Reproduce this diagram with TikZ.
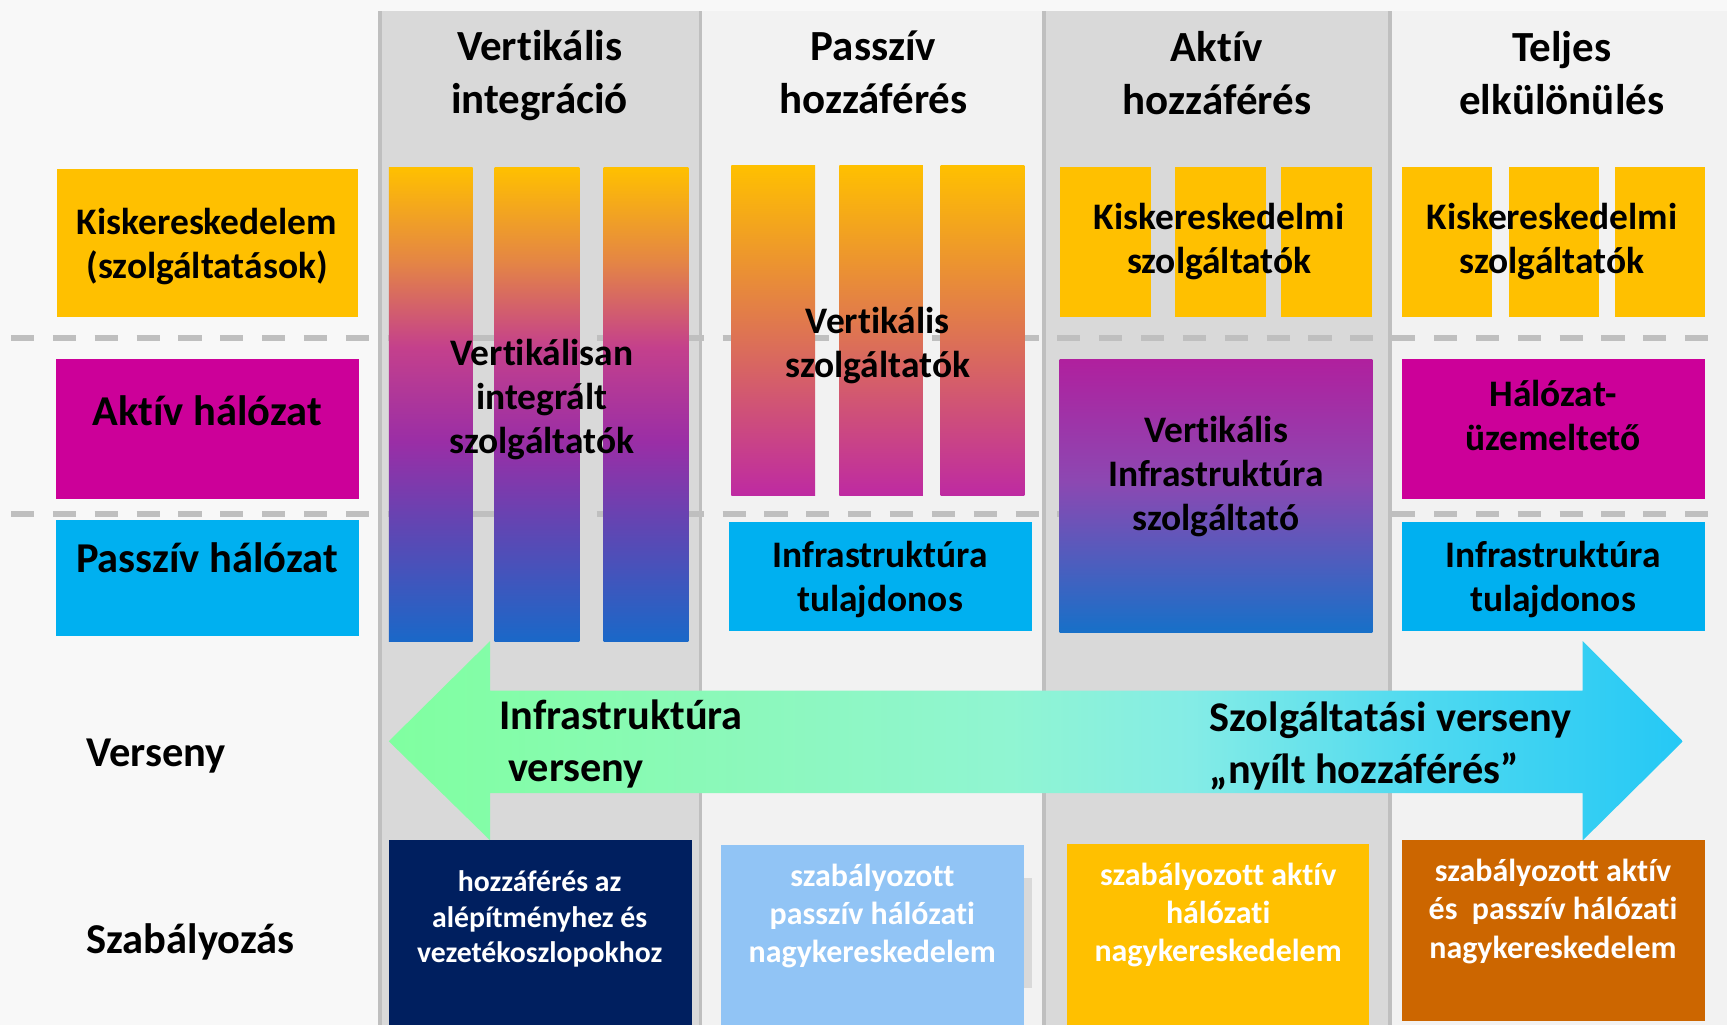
\documentclass[tikz,border=0pt]{standalone}
\usepackage{fontspec}
\setmainfont{Carlito}[Ligatures={NoCommon}]
\definecolor{bgc}{HTML}{F8F8F8}
\definecolor{colD}{HTML}{D9D9D9}
\definecolor{colL}{HTML}{F2F2F2}
\definecolor{sepc}{HTML}{BFBFBF}
\definecolor{cOr}{HTML}{FFC000}
\definecolor{cMag}{HTML}{CC0099}
\definecolor{cCy}{HTML}{00B0F0}
\definecolor{cNavy}{HTML}{001F5F}
\definecolor{cLb}{HTML}{91C4F5}
\definecolor{cDo}{HTML}{CC6600}
\definecolor{aA1}{HTML}{E48545}
\definecolor{aA2}{HTML}{C4408C}
\definecolor{aA3}{HTML}{9A2EA6}
\definecolor{aA4}{HTML}{6046B3}
\definecolor{aA5}{HTML}{1A68C8}
\definecolor{bB1}{HTML}{BE2AA2}
\definecolor{cC0}{HTML}{B0209E}
\definecolor{cC1}{HTML}{8C48B2}
\definecolor{cC2}{HTML}{1770C8}
\definecolor{ar0}{HTML}{80FFA0}
\definecolor{ar1}{HTML}{8CF8BC}
\definecolor{ar2}{HTML}{90F5D2}
\definecolor{ar3}{HTML}{84ECE6}
\definecolor{ar4}{HTML}{4ED9F0}
\definecolor{ar5}{HTML}{25C8F5}
\pgfdeclareverticalshading{barA}{100bp}{color(0bp)=(aA5); color(25bp)=(aA5); color(37bp)=(aA4); color(46bp)=(aA3); color(56bp)=(aA2); color(65bp)=(aA1); color(75bp)=(cOr); color(100bp)=(cOr)}
\pgfdeclareverticalshading{barB}{100bp}{color(0bp)=(bB1); color(25bp)=(bB1); color(75bp)=(cOr); color(100bp)=(cOr)}
\pgfdeclareverticalshading{barC}{100bp}{color(0bp)=(cC2); color(25bp)=(cC2); color(52.5bp)=(cC1); color(75bp)=(cC0); color(100bp)=(cC0)}
\pgfdeclarehorizontalshading{arrsh}{100bp}{color(0bp)=(ar0); color(25bp)=(ar0); color(39bp)=(ar1); color(49bp)=(ar2); color(56bp)=(ar3); color(65bp)=(ar4); color(75bp)=(ar5); color(100bp)=(ar5)}
\newcommand\rectnode[6]{%
  \pgfmathsetmacro\rw{(#5-#3)*0.5}%
  \pgfmathsetmacro\rh{(#6-#4)*0.5}%
  \node[boxx, #2, minimum width=\rw pt, minimum height=\rh pt] (#1) at ({(#3+#5)/2},{(#4+#6)/2}) {};}
\tikzset{
  boxx/.style={rectangle, inner sep=0pt, outer sep=0pt, draw=none},
  hdr/.style={font=\bfseries\fontsize{19.5pt}{24pt}\selectfont, align=center, inner sep=0pt},
  lbl/.style={font=\bfseries\fontsize{17pt}{20pt}\selectfont, align=center, inner sep=0pt},
  lblbig/.style={font=\bfseries\fontsize{19.3pt}{21pt}\selectfont, align=center, inner sep=0pt},
  rowlbl/.style={font=\bfseries\fontsize{19.3pt}{21pt}\selectfont, anchor=west, inner sep=0pt},
  arrtxt/.style={font=\bfseries\fontsize{19.2pt}{23.5pt}\selectfont, align=left, anchor=west, inner sep=0pt},
  sml/.style={font=\bfseries\fontsize{14.5pt}{17.3pt}\selectfont, align=center, inner sep=0pt, text=white},
  smlnav/.style={font=\bfseries\fontsize{13.5pt}{16.2pt}\selectfont, align=center, inner sep=0pt, text=white},
  sepline/.style={draw=sepc, line width=1.6pt},
  dashline/.style={draw=sepc, line width=2.6pt, dash pattern=on 10.5pt off 8.5pt},
}
\begin{document}
\begin{tikzpicture}[x=0.5pt, y=-0.5pt]
\useasboundingbox (0,0) rectangle (1568,931);
\fill[bgc] (0,0) rectangle (1568,931);
% columns
\rectnode{colA}{fill=colD}{345}{10}{636}{931}
\rectnode{colB}{fill=colL}{636}{10}{948}{931}
\rectnode{colC}{fill=colD}{948}{10}{1262}{931}
\rectnode{colE}{fill=colL}{1262}{10}{1568}{931}
\draw[sepline, line width=2.2pt] (colA.north west) -- (colA.south west);
\draw[sepline] (colB.north west) -- (colB.south west);
\draw[sepline] (colC.north west) -- (colC.south west);
\draw[sepline] (colE.north west) -- (colE.south west);
% dashed lines
\coordinate (d1a) at (10,307); \coordinate (d1b) at (1568,307);
\coordinate (d2a) at (10,467); \coordinate (d2b) at (1568,467);
\draw[dashline] (d1a) -- (d1b);
\draw[dashline] (d2a) -- (d2b);
% headers
\node[hdr] (h1) at (490,68.5) {Vertikális\\integráció};
\node[hdr] (h2) at (793,66) {Passzív\\hozzáférés};
\node[hdr] (h3) at (1105,66) {Aktív\\hozzáférés};
\node[hdr] (h4) at (1418,66) {Teljes\\elkülönülés};
% row label boxes
\rectnode{rRet}{fill=cOr}{52}{153}{325}{288}
\rectnode{rAct}{fill=cMag}{51}{326}{326}{453}
\rectnode{rPas}{fill=cCy}{51}{472}{326}{577}
\node[lbl] (tRet) at (188,223.5) {Kiskereskedelem\\(szolgáltatások)};
\node[lblbig] (tAct) at (188,373) {Aktív hálózat};
\node[lblbig] (tPas) at (188,506) {Passzív hálózat};
\node[rowlbl] (tVer) at (78,686) {Verseny};
\node[rowlbl] (tSza) at (78,855) {Szabályozás};
% column 1 bars
\rectnode{a1}{shade, shading=barA}{353}{152}{429}{582}
\rectnode{a2}{shade, shading=barA}{449}{152}{526}{582}
\rectnode{a3}{shade, shading=barA}{548}{152}{625}{582}
\node[lbl] (ta) at (492,362.5) {Vertikálisan\\integrált\\szolgáltatók};
% column 2 bars
\rectnode{b1}{shade, shading=barB}{664}{150}{740}{450}
\rectnode{b2}{shade, shading=barB}{762}{150}{838}{450}
\rectnode{b3}{shade, shading=barB}{854}{150}{930}{450}
\node[lbl] (tb) at (797,314) {Vertikális\\szolgáltatók};
\rectnode{bInf}{fill=cCy}{662}{474}{937}{573}
\node[lbl] (tbInf) at (799,526) {Infrastruktúra\\tulajdonos};
% column 3
\rectnode{c1}{fill=cOr}{962}{152}{1045}{288}
\rectnode{c2}{fill=cOr}{1067}{152}{1149}{288}
\rectnode{c3}{fill=cOr}{1163}{152}{1246}{288}
\node[lbl] (tc) at (1107,219) {Kiskereskedelmi\\szolgáltatók};
\rectnode{cBig}{shade, shading=barC}{962}{326}{1246}{574}
\node[lbl] (tcBig) at (1104,432.5) {Vertikális\\Infrastruktúra\\szolgáltató};
% column 4
\rectnode{e1}{fill=cOr}{1273}{152}{1355}{288}
\rectnode{e2}{fill=cOr}{1370}{152}{1452}{288}
\rectnode{e3}{fill=cOr}{1466}{152}{1548}{288}
\node[lbl] (te) at (1409,219) {Kiskereskedelmi\\szolgáltatók};
\rectnode{eNet}{fill=cMag}{1273}{326}{1548}{453}
\node[lbl] (teNet) at (1410,377.5) {Hálózat-\\üzemeltető};
\rectnode{eInf}{fill=cCy}{1273}{474}{1548}{573}
\node[lbl] (teInf) at (1410,526) {Infrastruktúra\\tulajdonos};
% double arrow
\shade[shading=arrsh] (353,673) -- (445,582) -- (445,627) -- (1437,627) -- (1437,582) -- (1528,673) -- (1437,763) -- (1437,720) -- (445,720) -- (445,763) -- cycle;
\node[arrtxt] (tInfV) at (453,675.5) {Infrastruktúra\\\hspace*{4pt}verseny};
\node[arrtxt] (tSzoV) at (1098,677) {Szolgáltatási verseny\\„nyílt hozzáférés”};
% bottom boxes
\rectnode{g1}{fill=cNavy}{353}{763}{628}{931}
\rectnode{gsh}{fill=colD}{928}{797}{937}{897}
\rectnode{g2}{fill=cLb}{655}{767}{930}{931}
\rectnode{g3}{fill=cOr}{969}{766}{1243}{931}
\rectnode{g4}{fill=cDo}{1273}{763}{1548}{927}
\node[smlnav] (tg1) at (490,834.5) {hozzáférés az\\alépítményhez és\\vezetékoszlopokhoz};
\node[sml] (tg2) at (792,831.5) {szabályozott\\passzív hálózati\\nagykereskedelem};
\node[sml] (tg3) at (1106,831) {szabályozott aktív\\hálózati\\nagykereskedelem};
\node[sml] (tg4) at (1410,827.5) {szabályozott aktív\\és\ \ passzív hálózati\\nagykereskedelem};
\end{tikzpicture}
\end{document}
